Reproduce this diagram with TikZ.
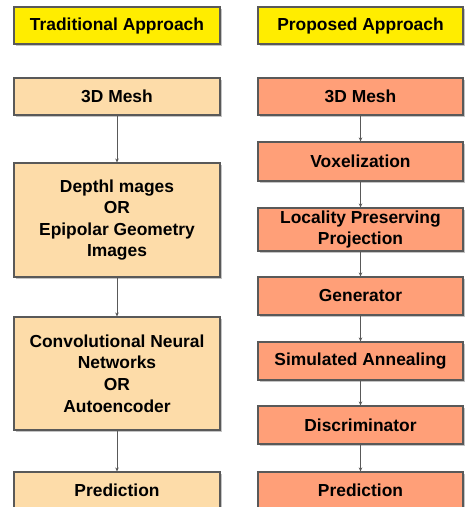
\documentclass[tikz,border=0pt]{standalone}
\usepackage{fontspec}
\setmainfont{Liberation Sans}
\usetikzlibrary{arrows.meta,shadows}
\definecolor{hdr}{HTML}{FFED00}
\definecolor{tradfill}{HTML}{FDDCA9}
\definecolor{propfill}{HTML}{FF9F78}
\definecolor{edge}{HTML}{595959}
\definecolor{shadowc}{HTML}{C4C4C4}
\tikzset{
  box/.style={draw=edge, line width=1.1pt, align=center, inner sep=0pt,
    font=\fontsize{17.4}{21.6}\selectfont\bfseries,
    drop shadow={shadow xshift=2.2pt, shadow yshift=-2.2pt, fill=shadowc, opacity=1}},
  hbox/.style={box, fill=hdr, minimum height=37pt},
  tbox/.style={box, fill=tradfill, minimum width=206pt},
  pbox/.style={box, fill=propfill, minimum width=205pt},
  conn/.style={draw=edge, line width=0.9pt, -{Stealth[length=4pt,width=3.5pt]}}
}
\begin{document}
\begin{tikzpicture}[x=1pt,y=-1pt]
\useasboundingbox (0,0) rectangle (465,507);
% headers
\node[hbox, minimum width=206pt] (th) at (117,25.5) {Traditional Approach};
\node[hbox, minimum width=205pt] (ph) at (360.5,25.5) {Proposed Approach};
% traditional column
\node[tbox, minimum height=37pt] (t1) at (117,96.5) {3D Mesh};
\node[tbox, minimum height=114pt] (t2) at (117,220) {Depthl mages\\OR\\Epipolar Geometry\\Images};
\node[tbox, minimum height=113pt] (t3) at (117,373.5) {Convolutional Neural\\Networks\\OR\\Autoencoder};
\node[tbox, minimum height=37pt] (t4) at (117,490.5) {Prediction};
% proposed column
\node[pbox, minimum height=37pt] (p1) at (360.5,96.5) {3D Mesh};
\node[pbox, minimum height=39pt] (p2) at (360.5,161.5) {Voxelization};
\node[pbox, minimum height=43pt] (p3) at (360.5,229.5) {Locality Preserving\\Projection};
\node[pbox, minimum height=38pt] (p4) at (360.5,296) {Generator};
\node[pbox, minimum height=38pt] (p5) at (360.5,361) {Simulated Annealing};
\node[pbox, minimum height=38pt] (p6) at (360.5,425) {Discriminator};
\node[pbox, minimum height=37pt] (p7) at (360.5,490.5) {Prediction};
% connectors
\draw[conn] (t1) -- (t2);
\draw[conn] (t2) -- (t3);
\draw[conn] (t3) -- (t4);
\draw[conn] (p1) -- (p2);
\draw[conn] (p2) -- (p3);
\draw[conn] (p3) -- (p4);
\draw[conn] (p4) -- (p5);
\draw[conn] (p5) -- (p6);
\draw[conn] (p6) -- (p7);
\end{tikzpicture}
\end{document}
